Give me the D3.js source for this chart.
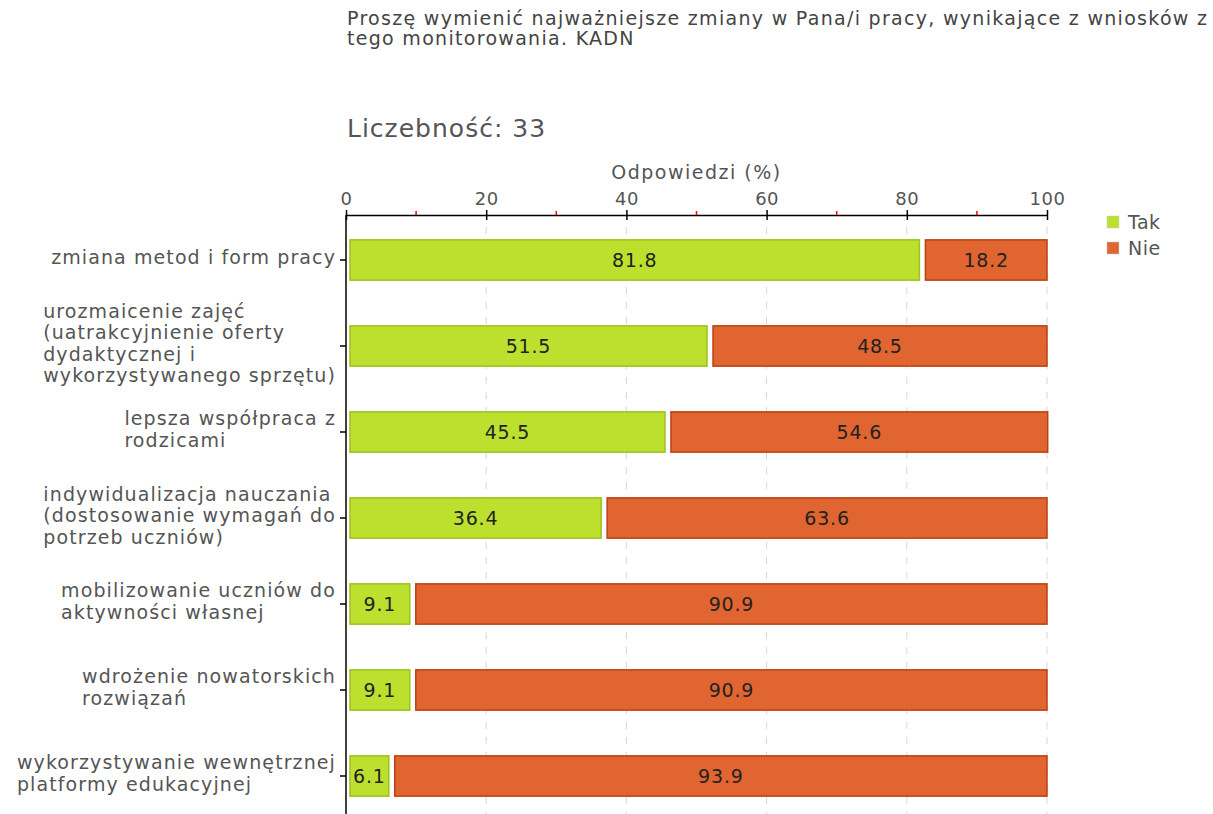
<!DOCTYPE html>
<html>
<head>
<meta charset="utf-8">
<script src="https://cdn.jsdelivr.net/npm/d3@7"></script>
<style>
  body { margin: 0; background: #fff; }
  svg { font-family: "DejaVu Sans", Verdana, sans-serif; }
</style>
</head>
<body>
<svg id="chart" width="1213" height="814"></svg>
<script>
// data
let categories = [
    ['zmiana metod i form pracy'],
    ['urozmaicenie zajęć', '(uatrakcyjnienie oferty', 'dydaktycznej i', 'wykorzystywanego sprzętu)'],
    ['lepsza współpraca z', 'rodzicami'],
    ['indywidualizacja nauczania', '(dostosowanie wymagań do', 'potrzeb uczniów)'],
    ['mobilizowanie uczniów do', 'aktywności własnej'],
    ['wdrożenie nowatorskich', 'rozwiązań'],
    ['wykorzystywanie wewnętrznej', 'platformy edukacyjnej']
]
let takValues = [81.8, 51.5, 45.5, 36.4, 9.1, 9.1, 6.1]
let nieValues = [18.2, 48.5, 54.6, 63.6, 90.9, 90.9, 93.9]
let majorTicks = [0, 20, 40, 60, 80, 100]
let minorTicks = [10, 30, 50, 70, 90]
let seriesNames = ['Tak', 'Nie']
let titleLines = ['Proszę wymienić najważniejsze zmiany w Pana/i pracy, wynikające z wniosków z', 'tego monitorowania. KADN']
let countText = 'Liczebność: 33'

let colors = {Tak: '#bde02f', Nie: '#e06530'}
let strokes = {Tak: '#9cc21b', Nie: '#bd4012'}

let svg = d3.select('#chart')
let axisY = 215
let xScale = d3.scaleLinear().domain([0, 100]).range([346, 1047])
let yScale = d3.scaleBand().domain(d3.range(categories.length))
    .range([axisY + 2, axisY + 2 + 86 * categories.length]).paddingInner(0.52).paddingOuter(0.26)

// title
svg.append('g').selectAll('text').data(titleLines).enter().append('text')
    .attr('x', 347).attr('y', (d, i) => 25 + i * 20)
    .attr('font-size', 19).attr('letter-spacing', 1.3).attr('fill', '#444').text(d => d)
svg.append('text').attr('x', 347).attr('y', 137).attr('font-size', 25).attr('letter-spacing', 1)
    .attr('fill', '#555').text(countText)
svg.append('text').attr('x', (xScale(0) + xScale(100)) / 2).attr('y', 179).attr('text-anchor', 'middle')
    .attr('font-size', 19).attr('letter-spacing', 1.5).attr('fill', '#555').text('Odpowiedzi (%)')

// grid
svg.append('g').selectAll('line').data(majorTicks.slice(1)).enter().append('line')
    .attr('x1', d => xScale(d)).attr('x2', d => xScale(d))
    .attr('y1', axisY + 12).attr('y2', 814)
    .attr('stroke', '#d8d8d8').attr('stroke-dasharray', '7,8')

// x axis
let xAxis = svg.append('g').attr('transform', 'translate(0,' + axisY + ')')
    .call(d3.axisTop(xScale).tickValues(majorTicks).tickSize(5).tickSizeOuter(0).tickPadding(5))
xAxis.select('.domain').attr('stroke', '#000').attr('stroke-width', 1.5)
xAxis.selectAll('.tick line').attr('y2', -5).attr('y1', 5).attr('stroke-width', 1.5)
xAxis.selectAll('.tick text').attr('font-size', 18).attr('letter-spacing', 0.5)
    .attr('fill', '#555').attr('font-family', 'DejaVu Sans')
xAxis.selectAll('.minor').data(minorTicks).enter().append('line')
    .attr('x1', d => xScale(d)).attr('x2', d => xScale(d))
    .attr('y1', -4).attr('y2', 0).attr('stroke', '#f00').attr('stroke-width', 1.5)

// y axis
let yAxis = svg.append('g')
yAxis.append('line').attr('x1', 346).attr('x2', 346).attr('y1', axisY).attr('y2', 814)
    .attr('stroke', '#000').attr('stroke-width', 1.5)
yAxis.selectAll('.ytick').data(categories).enter().append('line')
    .attr('x1', 340).attr('x2', 346)
    .attr('y1', (d, i) => yScale(i) + yScale.bandwidth() / 2)
    .attr('y2', (d, i) => yScale(i) + yScale.bandwidth() / 2)
    .attr('stroke', '#000').attr('stroke-width', 1.5)

// category labels (left aligned block, right edge next to the axis)
let lineH = 21.5
categories.forEach((lines, i) => {
    let cy = yScale(i) + yScale.bandwidth() / 2 - 3
    let t = svg.append('text').attr('font-size', 19).attr('letter-spacing', 1.1).attr('fill', '#555')
    lines.forEach((l, j) => {
        t.append('tspan').attr('x', 0).attr('y', cy + 7 + (j - (lines.length - 1) / 2) * lineH).text(l)
    })
    let w = t.node().getBBox().width
    t.selectAll('tspan').attr('x', 336 - w)
})

// bars
let rows = takValues.map((v, i) => ({i: i, tak: v, nie: nieValues[i]}))
let segs = []
rows.forEach(r => {
    segs.push({i: r.i, name: 'Tak', v: r.tak, x0: xScale(0) + 4, x1: xScale(r.tak)})
    segs.push({i: r.i, name: 'Nie', v: r.nie, x0: xScale(r.tak) + 6, x1: xScale(r.tak + r.nie)})
})
let bars = svg.append('g').selectAll('g').data(segs).enter().append('g')
bars.append('rect')
    .attr('x', d => d.x0).attr('width', d => d.x1 - d.x0)
    .attr('y', d => yScale(d.i) + 0.5).attr('height', yScale.bandwidth() - 1)
    .attr('fill', d => colors[d.name]).attr('stroke', d => strokes[d.name]).attr('stroke-width', 1.5)
bars.append('text')
    .attr('x', d => (d.x0 + d.x1) / 2).attr('y', d => yScale(d.i) + yScale.bandwidth() / 2 + 7)
    .attr('text-anchor', 'middle').attr('font-size', 19).attr('letter-spacing', 0.8).attr('fill', '#222')
    .text(d => d.v.toFixed(1))

// legend
let legend = svg.append('g').selectAll('g').data(seriesNames).enter().append('g')
    .attr('transform', (d, i) => 'translate(1107,' + (216 + i * 26) + ')')
legend.append('rect').attr('width', 12).attr('height', 12)
    .attr('fill', d => colors[d]).attr('stroke', '#ccc').attr('stroke-width', 0.5)
legend.append('text').attr('x', 21).attr('y', 13).attr('font-size', 19).attr('letter-spacing', 0.5)
    .attr('fill', '#555').text(d => d)
</script>
</body>
</html>
